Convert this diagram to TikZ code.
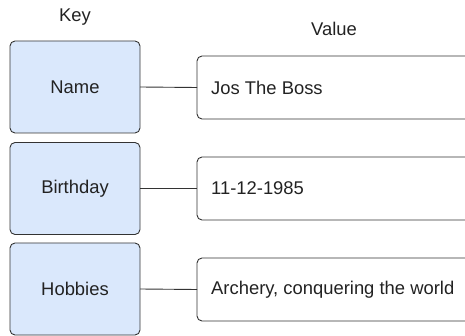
\documentclass[tikz,border=0pt]{standalone}
\usepackage{fontspec}
\setmainfont{Liberation Sans}
\definecolor{keyfill}{HTML}{DAE8FC}
\definecolor{linecol}{HTML}{333333}
\definecolor{txtcol}{HTML}{222222}
\begin{document}
\begin{tikzpicture}[x=1pt,y=-1pt,
  keybox/.style={draw=linecol,fill=keyfill,line width=0.9pt,rounded corners=5pt,
    minimum width=130pt,minimum height=92pt,inner sep=0pt,outer sep=0pt,
    font=\fontsize{18.4}{22}\selectfont,text=txtcol},
  valbox/.style={draw=linecol,line width=0.9pt,rounded corners=5pt,
    minimum width=290pt,minimum height=63pt,inner sep=0pt,outer sep=0pt},
  valtext/.style={anchor=west,font=\fontsize{18.4}{22}\selectfont,text=txtcol,inner sep=0pt},
  hdr/.style={font=\fontsize{18.4}{22}\selectfont,text=txtcol},
  link/.style={draw=linecol,line width=0.9pt}]
\useasboundingbox (0,0) rectangle (465,336);
\clip (0,0) rectangle (465,336);
\node[hdr] (keyhdr) at (75,17) {Key};
\node[hdr] (valhdr) at (334,29) {Value};
\node[keybox] (k1) at (75,87) {Name};
\node[keybox] (k2) at (75,188.5) {Birthday};
\node[keybox] (k3) at (75,289) {Hobbies};
\node[valbox,anchor=west] (v1) at (197,87.5) {};
\node[valbox,anchor=west] (v2) at (197,188.5) {};
\node[valbox,anchor=west] (v3) at (197,289.5) {};
\node[valtext] (t1) at (211,87.5) {Jos The Boss};
\node[valtext] (t2) at (211,188.5) {11-12-1985};
\node[valtext] (t3) at (211,289.5) {Archery, conquering the world};
\draw[link] (k1.east) -- (v1.west);
\draw[link] (k2.east) -- (v2.west);
\draw[link] (k3.east) -- (v3.west);
\end{tikzpicture}
\end{document}
